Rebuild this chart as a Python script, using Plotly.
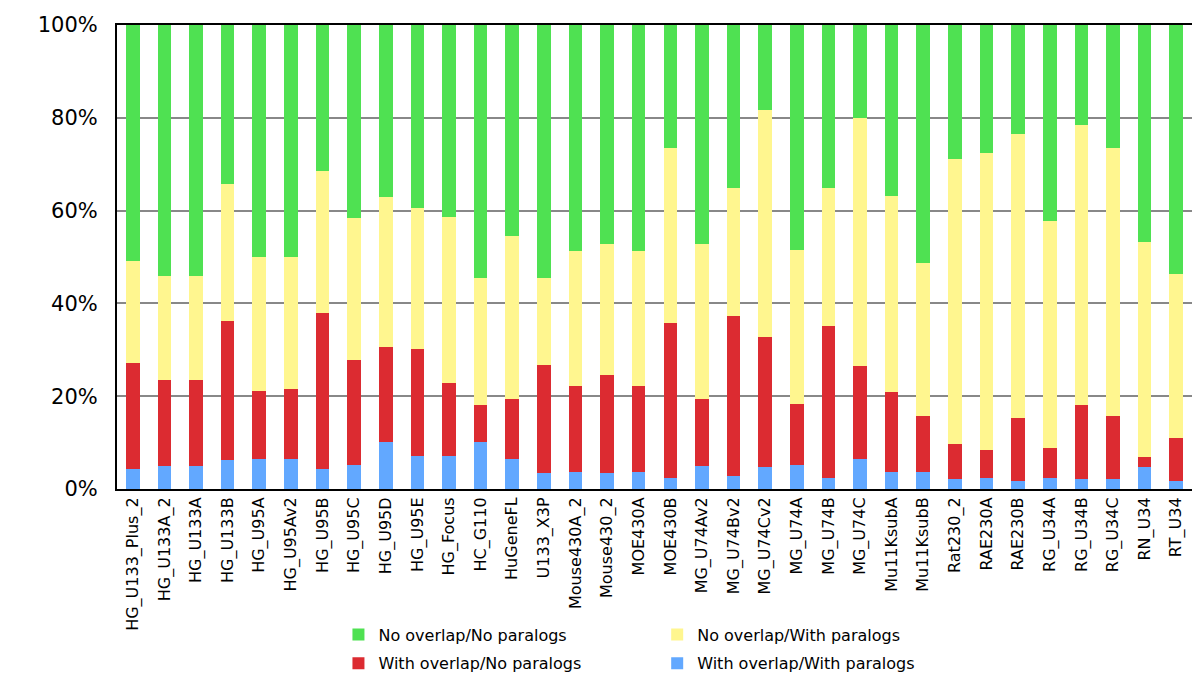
import plotly.graph_objects as go

categories = ["HG_U133_Plus_2", "HG_U133A_2", "HG_U133A", "HG_U133B", "HG_U95A", "HG_U95Av2",
              "HG_U95B", "HG_U95C", "HG_U95D", "HG_U95E", "HG_Focus", "HC_G110", "HuGeneFL",
              "U133_X3P", "Mouse430A_2", "Mouse430_2", "MOE430A", "MOE430B", "MG_U74Av2",
              "MG_U74Bv2", "MG_U74Cv2", "MG_U74A", "MG_U74B", "MG_U74C", "Mu11KsubA",
              "Mu11KsubB", "Rat230_2", "RAE230A", "RAE230B", "RG_U34A", "RG_U34B", "RG_U34C",
              "RN_U34", "RT_U34"]

y_tick_values = [0, 20, 40, 60, 80, 100]
y_tick_labels = ["0%", "20%", "40%", "60%", "80%", "100%"]

# percentages per segment (bottom to top)
with_overlap_with_paralogs = [4.4, 4.9, 4.9, 6.2, 6.5, 6.5, 4.4, 5.2, 10.1, 7.2, 7.2, 10.1, 6.5,
                              3.4, 3.7, 3.4, 3.7, 2.4, 4.9, 2.7, 4.7, 5.2, 2.4, 6.5, 3.7,
                              3.7, 2.1, 2.4, 1.8, 2.4, 2.1, 2.1, 4.7, 1.8]
with_overlap_no_paralogs = [22.7, 18.6, 18.6, 30.1, 14.7, 15.1, 33.6, 22.5, 20.5, 23.0, 15.7, 8.0, 12.9,
                            23.4, 18.5, 21.1, 18.5, 33.3, 14.5, 34.5, 28.1, 13.2, 32.7, 20.0, 17.2,
                            12.1, 7.7, 6.1, 13.4, 6.4, 15.9, 13.7, 2.2, 9.3]
no_overlap_with_paralogs = [22.0, 22.3, 22.3, 29.4, 28.9, 28.5, 30.6, 30.6, 32.3, 30.3, 35.7, 27.4, 35.1,
                            18.7, 29.1, 28.4, 29.1, 37.8, 33.5, 27.6, 48.9, 33.2, 29.7, 53.4, 42.3,
                            33.0, 61.3, 63.9, 61.3, 49.0, 60.5, 57.7, 46.3, 35.2]
no_overlap_no_paralogs = [50.9, 54.2, 54.2, 34.3, 49.9, 49.9, 31.4, 41.7, 37.1, 39.5, 41.4, 54.5, 45.5,
                          54.5, 48.7, 47.1, 48.7, 26.5, 47.1, 35.2, 18.3, 48.4, 35.2, 20.1, 36.8,
                          51.2, 28.9, 27.6, 23.5, 42.2, 21.5, 26.5, 46.8, 53.7]

series = [
    ("With overlap/With paralogs", with_overlap_with_paralogs, "#62A8FF", "legend2", "g4", 2),
    ("With overlap/No paralogs", with_overlap_no_paralogs, "#DC2B31", "legend", "g2", 2),
    ("No overlap/With paralogs", no_overlap_with_paralogs, "#FFF68F", "legend2", "g3", 1),
    ("No overlap/No paralogs", no_overlap_no_paralogs, "#4FE152", "legend", "g1", 1),
]

fig = go.Figure()
for name, vals, color, leg, grp, rank in series:
    fig.add_trace(go.Bar(
        x=categories, y=vals, name=name, width=0.43,
        marker=dict(color=color, line=dict(width=0)),
        legend=leg, legendgroup=grp, legendrank=rank,
    ))

font_family = "DejaVu Sans, Verdana, sans-serif"
legend_common = dict(
    orientation="v", traceorder="grouped", tracegroupgap=5,
    font=dict(family=font_family, size=16, color="#000000"),
    bgcolor="rgba(0,0,0,0)", yanchor="top", xanchor="left",
    itemwidth=30,
)

fig.update_layout(
    width=1192, height=672,
    margin=dict(l=109, r=8, t=17, b=191, autoexpand=False),
    paper_bgcolor="white", plot_bgcolor="white",
    barmode="stack", bargap=0.57,
    font=dict(family=font_family, color="#000000"),
    legend=dict(x=0.206, y=-0.277, **legend_common),
    legend2=dict(x=0.5025, y=-0.277, **legend_common),
    xaxis=dict(
        tickangle=-90, tickfont=dict(size=16, family=font_family),
        showline=True, linecolor="#000000", linewidth=2, mirror=True,
        ticks="", showgrid=False, automargin=False,
    ),
    yaxis=dict(
        range=[0, 100], tickmode="array", tickvals=y_tick_values, ticktext=y_tick_labels,
        tickfont=dict(size=21, family=font_family),
        showline=True, linecolor="#000000", linewidth=2, mirror=True,
        showgrid=True, gridcolor="#888888", gridwidth=2,
        ticks="", ticklabelstandoff=13, zeroline=False, automargin=False,
    ),
)

fig.write_html("out.html")
